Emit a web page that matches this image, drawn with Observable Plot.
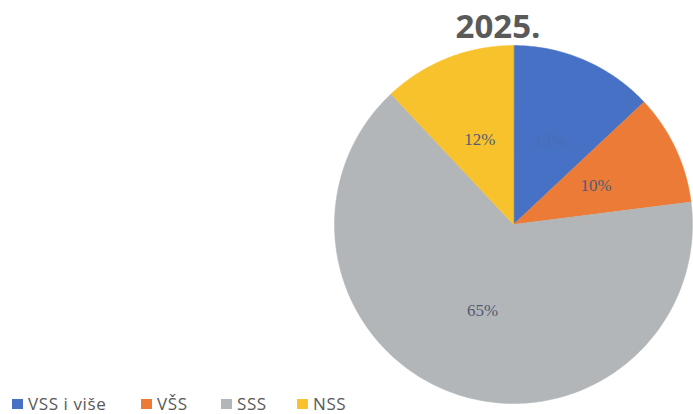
<!DOCTYPE html>
<html>
<head>
<meta charset="utf-8">
<script src="https://cdn.jsdelivr.net/npm/d3@7"></script>
<script src="https://cdn.jsdelivr.net/npm/@observablehq/plot@0.6"></script>
<style>
  html, body { margin: 0; padding: 0; background: #fff; }
  #wrap { position: relative; width: 693px; height: 414px; overflow: hidden; }
  #title { position: absolute; left: 398px; width: 200px; top: 6px; text-align: center;
    font-family: "Open Sans", sans-serif; font-weight: 700; font-size: 33px; color: #5a5a5a; line-height: 40px; }
  #legend { position: absolute; left: 0; top: 394px; width: 400px; height: 20px;
    font-family: "Open Sans", sans-serif; font-size: 17px; color: #595959; line-height: 20px; letter-spacing: 0.6px; }
  .item { position: absolute; top: 0; display: flex; align-items: center; gap: 5px; white-space: nowrap; }
  .sw { width: 11px; height: 10px; display: inline-block; }
</style>
</head>
<body>
<div id="wrap">
  <div id="chart"></div>
  <div id="title"></div>
  <div id="legend"></div>
</div>
<script>
const titleText = "2025.";
const categories = ["VSS i više", "VŠS", "SSS", "NSS"];
const shares = [13, 10, 65, 12];
const labels = ["13%", "10%", "65%", "12%"];
const colors = ["#4671c4", "#eb7b37", "#b3b6b9", "#f8c22d"];

// build slice outlines from the shares (geometry only)
const pie = d3.pie().sort(null).value(d => d.v)(categories.map((c, i) => ({c, v: shares[i], l: labels[i]})));
const outline = [];
const centroids = [];
for (const s of pie) {
  const a0 = s.startAngle, a1 = s.endAngle;
  outline.push({cat: s.data.c, x: 0, y: 0});
  const n = Math.max(2, Math.ceil((a1 - a0) / 0.02));
  for (let k = 0; k <= n; k++) {
    const a = a0 + (a1 - a0) * k / n;
    outline.push({cat: s.data.c, x: Math.sin(a), y: Math.cos(a)});
  }
  const am = (a0 + a1) / 2;
  centroids.push({cat: s.data.c, label: s.data.l, x: 0.51 * Math.sin(am), y: 0.51 * Math.cos(am)});
}

const chart = Plot.plot({
  width: 693,
  height: 414,
  marginLeft: 334,
  marginRight: 1,
  marginTop: 45,
  marginBottom: 11,
  x: {domain: [-1, 1], axis: null},
  y: {domain: [-1, 1], axis: null},
  color: {domain: categories, range: colors},
  style: {background: "transparent", overflow: "visible"},
  marks: [
    Plot.line(outline, {x: "x", y: "y", z: "cat", fill: "cat", stroke: "cat", strokeWidth: 0.5, curve: "linear-closed"}),
    Plot.text(centroids, {x: "x", y: "y", text: "label",
      fill: d => d.cat === categories[0] ? "#4a6cb8" : "#525c72",
      fontFamily: "Liberation Serif, serif", fontSize: 17})
  ]
});
document.getElementById("chart").appendChild(chart);
document.getElementById("title").textContent = titleText;

const legend = document.getElementById("legend");
const itemLeft = [12, 141, 221, 297];
categories.forEach((c, i) => {
  const it = document.createElement("div");
  it.className = "item";
  it.style.left = itemLeft[i] + "px";
  const sw = document.createElement("span");
  sw.className = "sw";
  sw.style.background = colors[i];
  const t = document.createElement("span");
  t.textContent = c;
  it.appendChild(sw); it.appendChild(t);
  legend.appendChild(it);
});
</script>
</body>
</html>
